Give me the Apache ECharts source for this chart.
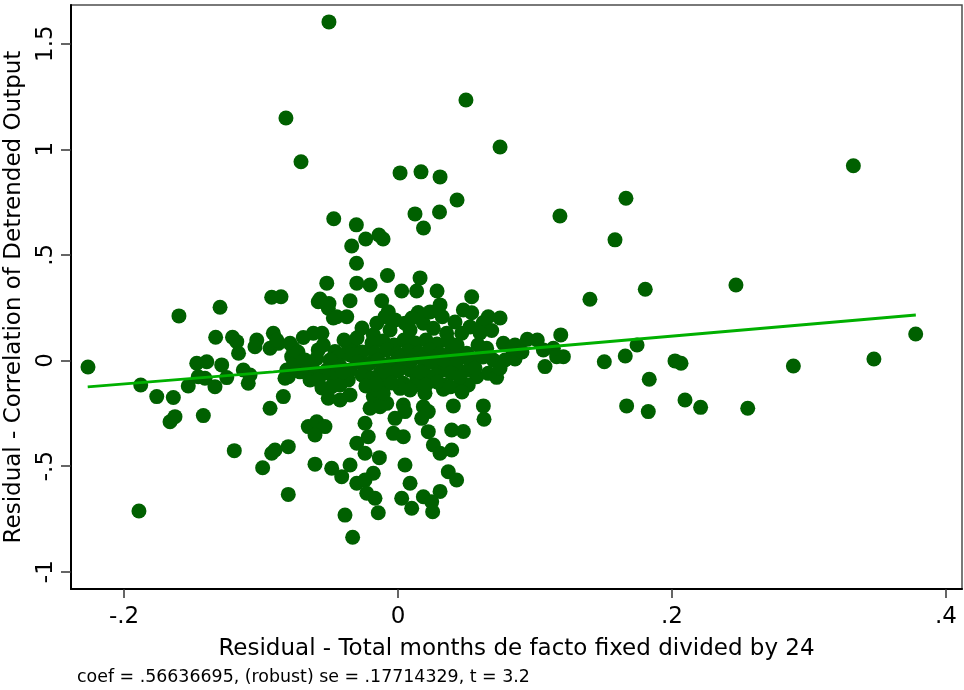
<!DOCTYPE html>
<html>
<head>
<meta charset="utf-8">
<script src="https://cdn.jsdelivr.net/npm/echarts@6/dist/echarts.min.js"></script>
<style>
html,body{margin:0;padding:0;background:#fff;}
#chart{width:964px;height:690px;}
</style>
</head>
<body>
<div id="chart"></div>
<script>
// Axis ticks
var xTicks = [-0.2, 0, 0.2, 0.4];
var yTicks = [-1, -0.5, 0, 0.5, 1, 1.5];

// Sparse / outlying points [x, y]
var outerPoints = [
[-0.2263,-0.031],[-0.1891,-0.713],[-0.0504,1.603],[-0.0818,1.148],[-0.0708,0.941],
[0.0496,1.233],[0.0745,1.011],[0.0015,0.888],[0.0168,0.893],[0.0307,0.869],
[0.0431,0.760],[0.0124,0.694],[0.0303,0.703],[0.0186,0.627],[-0.0469,0.671],
[-0.0304,0.642],[-0.0338,0.542],[-0.0236,0.575],[-0.0139,0.594],[-0.0109,0.575],
[-0.0303,0.460],[-0.0077,0.402],[0.0161,0.391],[-0.0520,0.366],[-0.0301,0.366],
[-0.0204,0.357],[-0.0350,0.283],[-0.0922,0.299],[-0.0854,0.302],[-0.1299,0.252],
[-0.1599,0.211],[0.1182,0.684],[0.1664,0.768],[0.1584,0.571],[0.1401,0.290],
[0.1805,0.337],[0.2467,0.357],[0.3324,0.922],[0.3779,0.125],[0.3474,0.007],
[0.2886,-0.026],[0.1506,-0.006],[0.1659,0.021],[0.1745,0.073],[0.1834,-0.089],
[0.2022,-0.002],[0.2066,-0.013],[0.1669,-0.215],[0.1827,-0.242],[0.2095,-0.187],
[0.2209,-0.222],[0.2553,-0.226]
];

// Points of the main cloud [x, y]
var cloudPoints = [
[-0.0569,0.291],[-0.0504,0.270],[-0.0119,0.283],[0.0027,0.329],[0.0136,0.329],
[0.0285,0.329],[0.0538,0.302],[0.0477,0.239],[0.0538,0.226],[0.0659,0.207],
[0.0745,0.201],[0.0623,0.180],[0.0684,0.142],[0.0323,0.207],[0.0307,0.263],
[0.0148,0.227],[-0.0071,0.231],[-0.0374,0.207],[-0.0472,0.201],[-0.0509,0.247],
[-0.0582,0.278],[-0.1331,0.110],[-0.1208,0.110],[-0.1177,0.089],[-0.1164,0.034],
[-0.1031,0.097],[-0.1044,0.065],[-0.0910,0.129],[-0.0934,0.058],[-0.0874,0.081],
[-0.0788,0.081],[-0.0764,0.058],[-0.0691,0.109],[-0.0618,0.129],[-0.0555,0.129],
[-0.0582,0.050],[-0.0460,0.042],[-0.0363,0.050],[-0.0447,0.207],[-0.0180,0.121],
[-0.0155,0.176],[-0.0095,0.207],[-0.0058,0.144],[0.0051,0.176],[0.0088,0.144],
[0.0185,0.176],[0.0258,0.152],[0.0465,0.129],[0.0526,0.159],[0.0355,0.129],
[-0.0338,0.065],[-0.0350,0.026],[-0.0545,0.073],[-0.0593,0.010],[-0.0436,0.018],
[-0.0885,0.097],[-0.0776,0.018],[-0.0812,-0.045],[-0.0801,-0.077],[-0.0642,-0.013],
[-0.0618,-0.045],[-0.0642,-0.092],[-0.0520,-0.045],[-0.0472,-0.077],[-0.0350,-0.045],
[-0.0363,-0.092],[-0.0204,-0.013],[-0.0131,-0.061],[-0.0131,-0.108],[0.0015,-0.013],
[0.0088,-0.045],[0.0039,-0.108],[0.0136,-0.092],[0.0209,-0.013],[0.0234,-0.077],
[0.0331,-0.045],[0.0331,-0.116],[0.0392,0.050],[0.0477,0.018],[0.0513,-0.045],
[0.0574,-0.077],[0.0659,-0.061],[0.0720,-0.080],[0.0769,0.081],[0.0854,0.007],
[0.0647,0.058],[0.0696,0.002],[0.0501,0.034],[0.0538,0.010],[0.0830,0.058],
[0.0944,0.100],[0.1017,0.097],[0.1061,0.050],[0.1134,0.058],[0.1158,0.018],
[0.1207,0.018],[0.1073,-0.029],[0.1188,0.121],[0.0623,-0.215],[0.0628,-0.278],
[-0.1878,-0.116],[-0.1761,-0.171],[-0.1640,-0.175],[-0.1664,-0.290],[-0.1628,-0.266],
[-0.1421,-0.261],[-0.1531,-0.121],[-0.1469,-0.013],[-0.1396,-0.006],[-0.1287,-0.021],
[-0.1458,-0.077],[-0.1409,-0.084],[-0.1250,-0.081],[-0.1336,-0.124],[-0.1129,-0.045],
[-0.1080,-0.069],[-0.1093,-0.108],[-0.0934,-0.226],[-0.0837,-0.171],[-0.0825,-0.084],
[-0.0764,-0.021],[-0.0545,-0.061],[-0.0509,-0.179],[-0.0423,-0.187],[-0.0350,-0.163],
[-0.0484,-0.124],[-0.0423,-0.116],[-0.0180,-0.171],[-0.0204,-0.226],[-0.0131,-0.219],
[-0.0082,-0.203],[-0.0155,-0.140],[-0.0107,-0.155],[0.0015,-0.132],[0.0039,-0.211],
[0.0051,-0.242],[-0.0022,-0.274],[0.0136,-0.116],[0.0197,-0.155],[0.0185,-0.219],
[0.0221,-0.242],[0.0173,-0.274],[0.0331,-0.136],[0.0440,-0.124],[0.0513,-0.116],
[0.0404,-0.215],[-0.0655,-0.313],[-0.0593,-0.290],[-0.0533,-0.313],[-0.0606,-0.353],
[-0.0241,-0.297],[-0.0217,-0.361],[-0.0034,-0.345],[0.0039,-0.361],[0.0221,-0.337],
[0.0392,-0.329],[0.0477,-0.336],[0.0258,-0.400],[0.0307,-0.439],[0.0392,-0.424],
[-0.1195,-0.427],[-0.0988,-0.508],[-0.0922,-0.439],[-0.0898,-0.424],[-0.0801,-0.408],
[-0.0301,-0.392],[-0.0241,-0.439],[-0.0136,-0.460],[-0.0606,-0.491],[-0.0484,-0.510],
[-0.0411,-0.550],[-0.0350,-0.495],[-0.0180,-0.534],[0.0051,-0.495],[0.0367,-0.527],
[0.0428,-0.566],[-0.0301,-0.581],[-0.0241,-0.566],[-0.0228,-0.629],[-0.0168,-0.652],
[0.0088,-0.581],[0.0307,-0.620],[0.0027,-0.652],[0.0100,-0.700],[0.0185,-0.645],
[0.0246,-0.669],[0.0253,-0.716],[-0.0144,-0.721],[-0.0801,-0.634],[-0.0387,-0.732],
[-0.0331,-0.837]
];

// Dense core of the cloud [x, y]
var corePoints = [
[-0.0190,0.083],[-0.0109,0.092],[-0.0029,0.073],[0.0044,0.097],[0.0124,0.083],
[0.0204,0.097],[0.0285,0.078],[0.0365,0.092],[0.0431,0.073],[-0.0263,0.040],
[-0.0168,0.036],[-0.0080,0.050],[0.0000,0.031],[0.0073,0.045],[0.0153,0.036],
[0.0234,0.050],[0.0307,0.031],[0.0394,0.012],[-0.0299,-0.007],[-0.0234,-0.026],
[-0.0146,0.002],[-0.0066,-0.017],[0.0015,0.017],[0.0095,-0.002],[0.0168,0.012],
[0.0255,-0.007],[0.0336,0.002],[0.0423,-0.021],[-0.0263,-0.069],[-0.0190,-0.083],
[-0.0058,-0.064],[0.0000,-0.050],[0.0161,-0.054],[0.0277,-0.069],[0.0387,-0.059],
[0.0453,-0.078],[-0.0234,-0.121],[-0.0161,-0.111],[-0.0044,-0.107],[0.0088,-0.140],
[0.0204,-0.116],[0.0285,-0.102],[0.0380,-0.125],[0.0467,-0.149],[-0.0423,-0.026],
[-0.0496,0.002],[-0.0394,0.097],[-0.0299,0.107],[-0.0263,0.154],[-0.0022,0.192],
[0.0102,0.201],[0.0234,0.230],[0.0416,0.182],[0.0599,0.130],[0.0584,0.073],
[0.0562,-0.036],[0.0620,0.017],[0.0781,0.002],[0.0745,-0.036],[0.0854,0.073],
[0.0905,0.040],[-0.0730,0.040],[-0.0679,0.002],[-0.0715,-0.054],[-0.0584,-0.092],
[-0.0555,-0.130],[-0.0401,-0.054]
];

// Fitted line
var fitX = [-0.2265, -0.091, 0.0599, 0.378];
var fitY = [-0.125, -0.054, 0.037, 0.215];

var xLabel = 'Residual - Total months de facto fixed divided by 24';
var yLabel = 'Residual - Correlation of Detrended Output';
var note = 'coef = .56636695, (robust) se = .17714329, t = 3.2';

function fmt(v){
  var s = String(Math.round(v*100)/100);
  return s.replace(/^(-?)0\./, '$1.');
}

var FONT = 'DejaVu Sans';
var allPts = outerPoints.concat(cloudPoints, corePoints);
var fitData = fitX.map(function(x,i){return [x, fitY[i]];});

var chart = echarts.init(document.getElementById('chart'), null, {renderer:'canvas'});
chart.setOption({
  animation: false,
  backgroundColor: '#ffffff',
  grid: {left: 71, right: 2, top: 5, bottom: 101, containLabel: false, outerBoundsMode: 'none',
         show: true, borderColor: '#4d4d4d', borderWidth: 1.5, backgroundColor: '#ffffff'},
  xAxis: {
    type: 'value', min: -0.2387, max: 0.4117,
    name: xLabel, nameLocation: 'middle', nameGap: 49,
    nameTextStyle: {fontFamily: FONT, fontSize: 23, color: '#000'},
    axisLine: {show: true, onZero: false, lineStyle: {color: '#000', width: 2}},
    axisTick: {show: true, length: 9, customValues: xTicks, lineStyle: {color: '#333', width: 1.5}},
    axisLabel: {customValues: xTicks, formatter: fmt, margin: 17, fontFamily: FONT, fontSize: 23, color: '#000'},
    splitLine: {show: false}
  },
  yAxis: {
    type: 'value', min: -1.082, max: 1.683,
    name: yLabel, nameLocation: 'middle', nameGap: 45,
    nameTextStyle: {fontFamily: FONT, fontSize: 23, color: '#000'},
    axisLine: {show: true, onZero: false, lineStyle: {color: '#000', width: 2}},
    axisTick: {show: true, length: 10, customValues: yTicks, lineStyle: {color: '#333', width: 1.5}},
    axisLabel: {customValues: yTicks, formatter: fmt, rotate: 90, margin: 13, fontFamily: FONT, fontSize: 23, color: '#000'},
    splitLine: {show: false}
  },
  series: [
    {type: 'scatter', data: allPts, symbol: 'circle', symbolSize: 15,
     itemStyle: {color: '#006000', opacity: 1}, z: 2},
    {type: 'line', data: fitData, symbol: 'none', smooth: false,
     lineStyle: {color: '#00b000', width: 3}, z: 3}
  ],
  graphic: [
    {type: 'text', left: 77, top: 669, style: {text: note, fontFamily: FONT, fontSize: 17.4, fill: '#000'}}
  ]
});
</script>
</body>
</html>
